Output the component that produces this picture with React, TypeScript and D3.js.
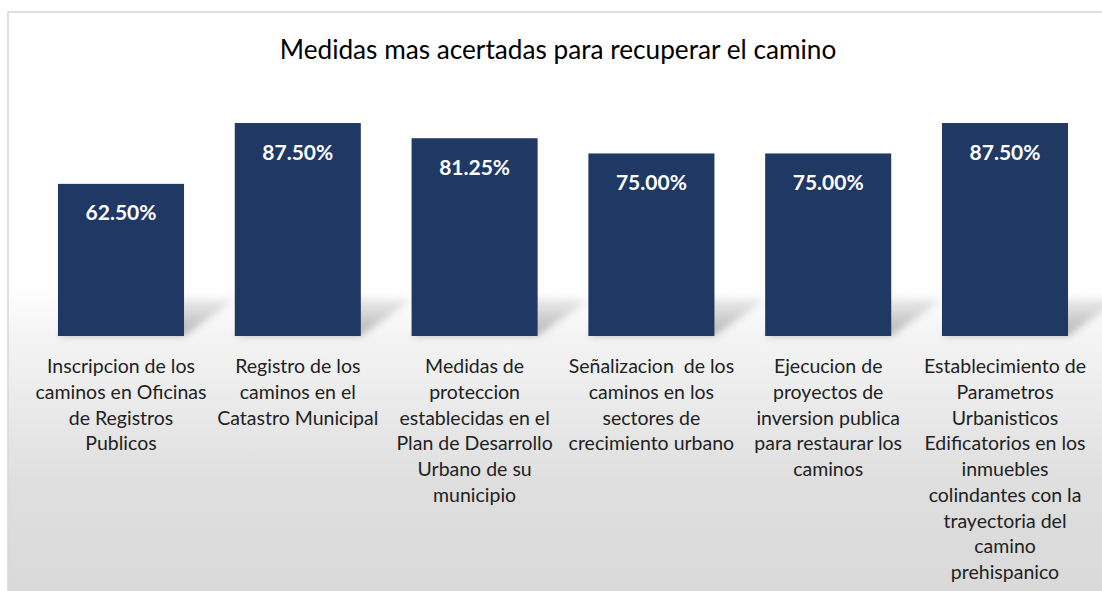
import React from 'react';
import * as d3 from 'd3';

const categoryLines: string[][] = [
  ['Inscripcion de los', 'caminos en Oficinas', 'de Registros', 'Publicos'],
  ['Registro de los', 'caminos en el', 'Catastro Municipal'],
  ['Medidas de', 'proteccion', 'establecidas en el', 'Plan de Desarrollo', 'Urbano de su', 'municipio'],
  ['Señalizacion  de los', 'caminos en los', 'sectores de', 'crecimiento urbano'],
  ['Ejecucion de', 'proyectos de', 'inversion publica', 'para restaurar los', 'caminos'],
  ['Establecimiento de', 'Parametros', 'Urbanisticos', 'Edificatorios en los', 'inmuebles', 'colindantes con la', 'trayectoria del', 'camino', 'prehispanico'],
];
const values: number[] = [62.5, 87.5, 81.25, 75.0, 75.0, 87.5];
const valueLabels: string[] = ['62.50%', '87.50%', '81.25%', '75.00%', '75.00%', '87.50%'];
const title = 'Medidas mas acertadas para recuperar el camino';

const W = 1102;
const H = 591;
const FONT = 'Lato, "Open Sans", sans-serif';

export default function App() {
  const ids = categoryLines.map((_, i) => String(i));
  const x = d3.scaleBand<string>()
    .domain(ids)
    .range([32.6, 1093.4])
    .paddingInner(0.287)
    .paddingOuter(0.1435);
  const y = d3.scaleLinear().domain([0, 100]).range([336, 92.6]);
  const base = y(0);
  const off = (v: number) => (v - 12) / (H - 12);

  return (
    <svg width={W} height={H} style={{ position: 'absolute', left: 0, top: 0 }}>
      <defs>
        <linearGradient id="bg" x1="0" y1="12" x2="0" y2={H} gradientUnits="userSpaceOnUse">
          <stop offset="0" stopColor="#ffffff" />
          <stop offset={off(285)} stopColor="#ffffff" />
          <stop offset={off(336)} stopColor="#f4f4f4" />
          <stop offset={off(400)} stopColor="#ebebeb" />
          <stop offset={off(480)} stopColor="#dfdfdf" />
          <stop offset="1" stopColor="#d9d9d9" />
        </linearGradient>
        <linearGradient id="shade" x1="0" y1="1" x2="0" y2="0">
          <stop offset="0" stopColor="#000" stopOpacity="0.26" />
          <stop offset="1" stopColor="#000" stopOpacity="0.05" />
        </linearGradient>
        <filter id="blur" x="-20%" y="-40%" width="140%" height="180%">
          <feGaussianBlur stdDeviation="3.5" />
        </filter>
      </defs>

      <rect x={8} y={12} width={W} height={H} fill="url(#bg)" stroke="#d9d9d9" strokeWidth={1.6} />

      {/* perspective shadows */}
      {values.map((v, i) => {
        const x0 = x(ids[i])!;
        const x1 = x0 + x.bandwidth();
        const pts = [
          [x0, base],
          [x1, base],
          [x1 + 50, base - 36],
          [x0 + 50, base - 40],
        ];
        return (
          <polygon key={'s' + i} points={pts.map(p => p.join(',')).join(' ')} fill="url(#shade)" filter="url(#blur)" />
        );
      })}

      {values.map((v, i) => (
        <rect key={'b' + i} x={x(ids[i])} y={y(v)} width={x.bandwidth()} height={base - y(v)} fill="#203864" />
      ))}

      {values.map((v, i) => (
        <text key={'v' + i} x={x(ids[i])! + x.bandwidth() / 2} y={y(v) + 36.5} textAnchor="middle"
          fontFamily={FONT} fontWeight={700} fontSize={21} fill="#ffffff">
          {valueLabels[i]}
        </text>
      ))}

      {categoryLines.map((lines, i) => (
        <text key={'c' + i} x={x(ids[i])! + x.bandwidth() / 2} y={373} textAnchor="middle"
          fontFamily={FONT} fontSize={19.5} fill="#222222" style={{ whiteSpace: 'pre' }}>
          {lines.map((l, j) => (
            <tspan key={j} x={x(ids[i])! + x.bandwidth() / 2} y={373 + j * 25.75}>{l}</tspan>
          ))}
        </text>
      ))}

      <text x={558} y={59} textAnchor="middle" fontFamily={FONT} fontSize={26.2} fill="#000000">
        {title}
      </text>
    </svg>
  );
}
